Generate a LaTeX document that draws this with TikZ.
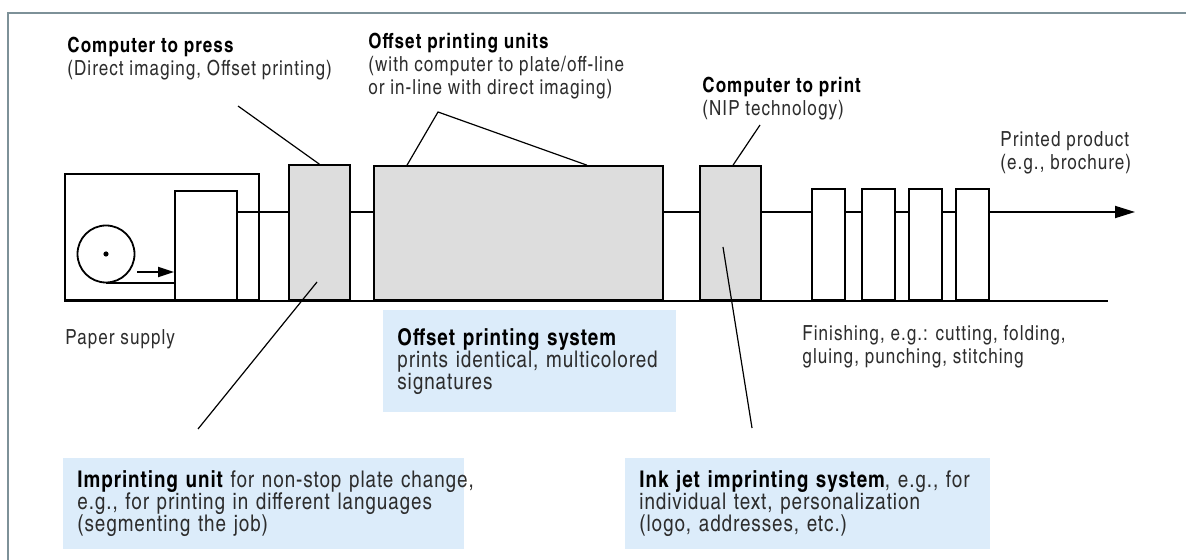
\documentclass[tikz,border=0pt]{standalone}
\usepackage{fontspec}
\setmainfont{texgyreheroscn}[Extension=.otf, UprightFont=*-regular, BoldFont=*-bold, ItalicFont=*-italic, BoldItalicFont=*-bolditalic, LetterSpace=5]
\newfontfamily\notefont{texgyreheroscn}[Extension=.otf, UprightFont=*-regular, BoldFont=*-bold, LetterSpace=4]
\usetikzlibrary{arrows.meta,positioning}
\definecolor{unitgray}{RGB}{221,221,221}
\definecolor{noteblue}{RGB}{220,236,250}
\definecolor{framegray}{RGB}{125,145,152}
\definecolor{inkgray}{RGB}{45,45,45}
\newcommand{\head}[1]{\textbf{\color{black}#1}}

\begin{document}
\begin{tikzpicture}[x=0.5pt, y=-0.5pt, font=\fontsize{10.4}{11.5}\selectfont,
    machine/.style={draw, line width=0.9pt, inner sep=0pt, anchor=south west},
    unit/.style={machine, fill=unitgray},
    pointer/.style={draw, line width=0.6pt},
    remark/.style={anchor=north west, align=left, inner sep=0pt, text=inkgray},
    note/.style={anchor=north west, fill=noteblue, align=left, inner xsep=7pt, inner ysep=0pt, text=inkgray,
        font=\notefont\fontsize{11.5}{11}\selectfont}]
    \useasboundingbox (0,0) rectangle (1186,560);

    % Frame
    \draw[framegray, line width=1.2pt] (8,560) -- (8,13) -- (1186,13);

    % Paper supply
    \node[machine, minimum width=97pt, minimum height=63pt] (supply) at (64,301) {};
    \node[machine, fill=white, minimum width=31pt, minimum height=54.5pt] (feeder) at (174,301) {};
    \node[draw, circle, line width=0.9pt, minimum size=28.5pt, inner sep=0pt] (roll) at (106,254) {};
    \fill (roll.center) circle (1.3pt);
    \draw[line width=0.9pt] (roll.south) -- (roll.south -| feeder.west);
    \coordinate (feedstart) at (137,272);
    \draw[line width=0.9pt, -{Triangle[length=8pt,width=5pt]}] (feedstart) -- (feedstart -| feeder.west);

    % Printing units
    \node[unit, minimum width=30.5pt, minimum height=67.5pt] (press) at (288,301) {};
    \node[unit, minimum width=144.5pt, minimum height=67pt] (offset) at (373,301) {};
    \node[unit, minimum width=30.5pt, minimum height=67pt] (nip) at (699,301) {};
    \foreach \x [count=\i] in {811,861,908,955}
        \node[machine, minimum width=16.5pt, minimum height=55.5pt] (fin\i) at (\x,301) {};

    % Web path
    \coordinate (flow) at (0,212);
    \coordinate (out) at (1135,212);
    \coordinate (lineend) at (1108,301);
    \draw[line width=0.9pt] (supply.south west) -- (lineend);
    \draw[line width=0.9pt] (feeder.east |- flow) -- (press.west |- flow)
        (press.east |- flow) -- (offset.west |- flow)
        (offset.east |- flow) -- (nip.west |- flow)
        (nip.east |- flow) -- (fin1.west |- flow);
    \foreach \a/\b in {1/2,2/3,3/4}
        \draw[line width=0.9pt] (fin\a.east |- flow) -- (fin\b.west |- flow);
    \draw[line width=0.9pt, -{Triangle[length=10pt,width=6pt]}] (fin4.east |- flow) -- (out);

    % Labels
    \node[remark] (ctpress) at (67,37) {\head{Computer to press}\\(Direct imaging, Offset printing)};
    \node[remark] (units) at (368,33) {\head{Offset printing units}\\(with computer to plate/off-line\\or in-line with direct imaging)};
    \node[remark] (ctprint) at (702,77) {\head{Computer to print}\\(NIP technology)};
    \node[remark] (product) at (1000,131) {Printed product\\(e.g., brochure)};
    \node[remark] (paper) at (65,329) {Paper supply};
    \node[remark] (finishing) at (802,325) {Finishing, e.g.: cutting, folding,\\gluing, punching, stitching};

    % Notes
    \node[note, text width=132.5pt, minimum height=51pt] (system) at (383,310) {\mbox{\head{Offset printing system}}\\\mbox{prints identical, multicolored}\\signatures};
    \node[note, text width=186.5pt, minimum height=45.5pt] (imprint) at (63,458) {\mbox{\head{Imprinting unit} for non-stop plate change,}\\\mbox{e.g., for printing in different languages}\\(segmenting the job)};
    \node[note, text width=168.5pt, minimum height=45.5pt] (inkjet) at (625,458) {\mbox{\head{Ink jet imprinting system}, e.g., for}\\\mbox{individual text, personalization}\\(logo, addresses, etc.)};

    % Pointers
    \coordinate (ctpress-tip) at (238,106);
    \draw[pointer] (ctpress-tip) -- (press.north);
    \coordinate (units-tip) at (438,112);
    \draw[pointer] ([xshift=17pt]offset.north west) -- (units-tip) -- ([xshift=107pt]offset.north west);
    \coordinate (ctprint-tip) at (760,125);
    \draw[pointer] (ctprint-tip) -- ([xshift=17pt]nip.north west);
    \draw[pointer] ([xshift=14.5pt,yshift=9.5pt]press.south west) -- ([xshift=67.5pt,yshift=14.5pt]imprint.north west);
    \draw[pointer] ([xshift=12pt,yshift=27pt]nip.south west) -- ([xshift=63.5pt,yshift=15pt]inkjet.north west);
\end{tikzpicture}
\end{document}
